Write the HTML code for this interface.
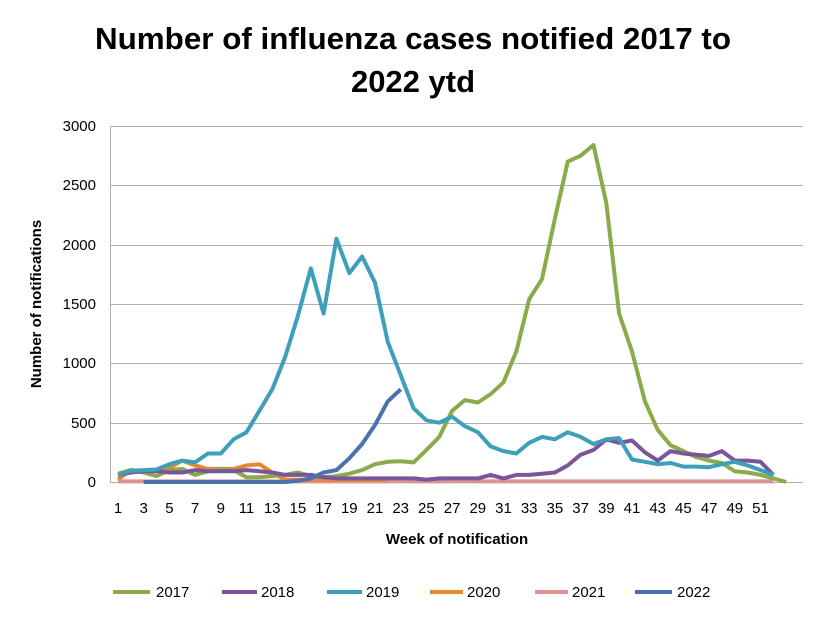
<!DOCTYPE html><html><head><meta charset="utf-8"><style>body{margin:0;background:#fff}svg text{font-family:"Liberation Sans",sans-serif}</style></head><body>
<svg width="821" height="616" xmlns="http://www.w3.org/2000/svg">
<rect width="821" height="616" fill="#fff"/>
<text x="413" y="49" text-anchor="middle" font-size="31" font-weight="bold" textLength="636" lengthAdjust="spacingAndGlyphs">Number of influenza cases notified 2017 to</text>
<text x="413" y="92" text-anchor="middle" font-size="31" font-weight="bold">2022 ytd</text>
<g stroke="#b0b0b0" stroke-width="1">
<line x1="110" y1="126.5" x2="803" y2="126.5"/><line x1="110" y1="185.5" x2="803" y2="185.5"/><line x1="110" y1="245.5" x2="803" y2="245.5"/><line x1="110" y1="304.5" x2="803" y2="304.5"/><line x1="110" y1="363.5" x2="803" y2="363.5"/><line x1="110" y1="423.5" x2="803" y2="423.5"/><line x1="110" y1="482.5" x2="803" y2="482.5"/><line x1="110.5" y1="126" x2="110.5" y2="482"/>
</g>
<g font-size="15" text-anchor="end"><text x="96" y="131">3000</text><text x="96" y="190">2500</text><text x="96" y="250">2000</text><text x="96" y="309">1500</text><text x="96" y="368">1000</text><text x="96" y="428">500</text><text x="96" y="487">0</text></g>
<g id="xl" font-size="15" text-anchor="middle"></g>
<text x="457" y="544" text-anchor="middle" font-size="15" font-weight="bold">Week of notification</text>
<text transform="translate(41,304) rotate(-90)" text-anchor="middle" font-size="15" font-weight="bold">Number of notifications</text>
<g id="ser" fill="none" stroke-width="4" stroke-linejoin="round"></g>
<g font-size="15">
<line x1="113" y1="592" x2="150" y2="592" stroke="#8aab4a" stroke-width="4"/><text x="156" y="597">2017</text>
<line x1="222" y1="592" x2="257" y2="592" stroke="#7a559a" stroke-width="4"/><text x="261" y="597">2018</text>
<line x1="327" y1="592" x2="362" y2="592" stroke="#3d9fba" stroke-width="4"/><text x="366" y="597">2019</text>
<line x1="430" y1="592" x2="463" y2="592" stroke="#e98634" stroke-width="4"/><text x="467" y="597">2020</text>
<line x1="535" y1="592" x2="568" y2="592" stroke="#d99594" stroke-width="4"/><text x="572" y="597">2021</text>
<line x1="635" y1="592" x2="672" y2="592" stroke="#4a72ad" stroke-width="4"/><text x="677" y="597">2022</text>
</g>
</svg>
<script>
const X=w=>118+(w-1)*12.85,Y=v=>482-v*0.11867;
let xl='';for(let w=1;w<=51;w+=2)xl+=`<text x="${X(w)}" y="513">${w}</text>`;
document.getElementById('xl').innerHTML=xl;
const S=[
["#d99594",1,Array(52).fill(5)],
["#e98634",1,[20,100,90,100,120,180,140,110,110,110,140,150,80,20,20,20,20,20,20,20,20,20]],
["#8aab4a",1,[70,100,80,50,100,110,60,90,110,100,40,40,50,60,80,50,40,50,70,100,150,170,175,165,270,380,600,690,670,740,840,1100,1540,1710,2220,2700,2750,2840,2350,1420,1100,680,440,310,260,210,180,160,90,80,60,30,0]],
["#7a559a",1,[60,80,90,90,80,80,100,90,90,90,100,90,80,60,60,60,40,30,30,30,30,30,30,30,20,30,30,30,30,60,30,60,60,70,80,140,230,270,360,330,350,250,180,260,240,230,220,260,180,180,170,60]],
["#3d9fba",1,[60,95,100,105,150,180,165,240,240,360,420,600,780,1050,1400,1800,1420,2050,1760,1900,1680,1180,900,620,520,500,550,470,420,300,260,240,330,380,360,420,380,320,360,370,190,170,150,160,130,130,125,150,170,140,100,60]],
["#4a72ad",3,[0,0,0,0,0,0,0,0,0,0,0,0,10,30,80,100,200,320,480,680,780]]
];
let h='';for(const [c,s,d] of S){h+=`<polyline stroke="${c}" points="${d.map((v,i)=>X(s+i).toFixed(1)+','+Y(v).toFixed(1)).join(' ')}"/>`;}
document.getElementById('ser').innerHTML=h;
</script>
</body></html>
